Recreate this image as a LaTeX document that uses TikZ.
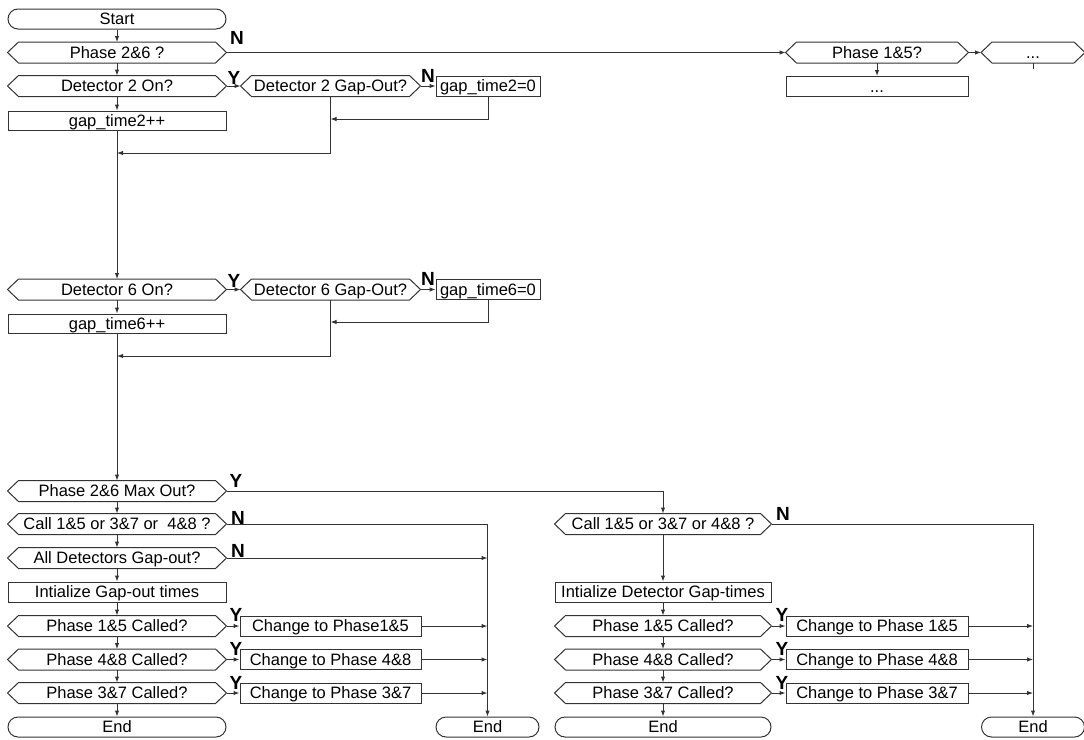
\documentclass[tikz,border=0pt]{standalone}
\usepackage{fontspec}
\setmainfont{Liberation Sans}
\usetikzlibrary{arrows.meta,calc,shapes.misc}
\definecolor{lc}{HTML}{333333}
\tikzset{
 x=1pt,y=-1pt,
 base/.style={draw=lc, line width=1pt, minimum height=20pt, inner sep=0pt, font=\fontsize{16.5}{18}\selectfont, text=black, text height=12pt, text depth=0.4pt},
 procbox/.style={base, rectangle, minimum width=#1},
 termbox/.style={base, rounded rectangle, minimum width=#1},
 hexbox/.style={base, draw=none, minimum width=#1},
 conn/.style={draw=lc, line width=1pt},
 arr/.style={conn, -{Latex[length=6pt,width=4.5pt]}},
 lbl/.style={font=\fontsize{19}{19}\selectfont\bfseries, inner sep=0pt},
}
\newcommand{\FChex}[5]{%
 \node[hexbox=#4] (#1) at (#2,#3) {#5};
 \draw[conn] (#1.west) -- ($(#1.north west)+(11,0)$) -- ($(#1.north east)+(-11,0)$) -- (#1.east) -- ($(#1.south east)+(-11,0)$) -- ($(#1.south west)+(11,0)$) -- cycle;}
\begin{document}
\begin{tikzpicture}
\useasboundingbox (0,0) rectangle (1084,739);
% ---------- top part ----------
\node[termbox=218pt] (start) at (117,19) {Start};
\FChex{p26}{117}{52.5}{218pt}{Phase 2\&6 ?}
\FChex{d2on}{117}{86}{218pt}{Detector 2 On?}
\FChex{d2go}{330.5}{86}{179pt}{Detector 2 Gap-Out?}
\node[procbox=104pt] (gt2z) at (488,86) {gap\_time2=0};
\node[procbox=218pt, minimum height=19pt] (gt2pp) at (117,120.5) {gap\_time2++};
\FChex{p15}{877}{52.5}{182pt}{Phase 1\&5?}
\FChex{dots}{1033}{52.5}{103pt}{...}
\node[procbox=182pt] (dotsr) at (877,86.5) {...};
\coordinate (dstub) at (1033,69);
\coordinate (j1) at (330.5,119);
\coordinate (j2) at (330.5,153);
\coordinate (m1) at (117,153);
\draw[arr] (start) -- (p26);
\draw[arr] (p26) -- (d2on);
\draw[arr] (p26.east) -- (p15.west);
\draw[arr] (p15.east) -- (dots.west);
\draw[arr] (p15.south) -- (dotsr.north);
\draw[conn] (dots.south) -- (dstub);
\draw[arr] (d2on.east) -- (d2go.west);
\draw[arr] (d2on) -- (gt2pp);
\draw[arr] (d2go.east) -- (gt2z.west);
\draw[arr] (gt2z.south) |- (j1);
\draw[conn] (d2go.south) -- (j2);
\draw[arr] (j2) -- (m1);
\node[lbl] (n1) at (237,38) {N};
\node[lbl] (y1) at (234,78) {Y};
\node[lbl] (n2) at (428,76) {N};
% ---------- detector 6 ----------
\FChex{d6on}{117}{289.5}{218pt}{Detector 6 On?}
\FChex{d6go}{330.5}{289.5}{179pt}{Detector 6 Gap-Out?}
\node[procbox=104pt] (gt6z) at (488,289.5) {gap\_time6=0};
\node[procbox=218pt, minimum height=19pt] (gt6pp) at (117,323.5) {gap\_time6++};
\coordinate (j3) at (330.5,322);
\coordinate (j4) at (330.5,356);
\coordinate (m2) at (117,356);
\draw[arr] (gt2pp) -- (d6on);
\draw[arr] (d6on.east) -- (d6go.west);
\draw[arr] (d6on) -- (gt6pp);
\draw[arr] (d6go.east) -- (gt6z.west);
\draw[arr] (gt6z.south) |- (j3);
\draw[conn] (d6go.south) -- (j4);
\draw[arr] (j4) -- (m2);
\node[lbl] (y2) at (234,281) {Y};
\node[lbl] (n3) at (428,279) {N};
% ---------- bottom left ----------
\FChex{maxout}{117}{491}{218pt}{Phase 2\&6 Max Out?}
\FChex{call1}{117}{524}{218pt}{Call 1\&5 or 3\&7 or\ \ 4\&8 ?}
\FChex{alldet}{117}{558}{218pt}{All Detectors Gap-out?}
\node[procbox=218pt] (init1) at (117,592) {Intialize Gap-out times};
\FChex{pa1}{117}{626}{218pt}{Phase 1\&5 Called?}
\FChex{pb1}{117}{659.5}{218pt}{Phase 4\&8 Called?}
\FChex{pc1}{117}{693}{218pt}{Phase 3\&7 Called?}
\node[termbox=218pt] (end1) at (117,727) {End};
\node[procbox=181pt] (ca1) at (330.5,626) {Change to Phase1\&5};
\node[procbox=181pt] (cb1) at (330.5,659.5) {Change to Phase 4\&8};
\node[procbox=181pt] (cc1) at (330.5,693) {Change to Phase 3\&7};
\node[termbox=103pt] (end2) at (487.5,727) {End};
\draw[arr] (gt6pp) -- (maxout);
\draw[arr] (maxout) -- (call1);
\draw[arr] (call1) -- (alldet);
\draw[arr] (alldet) -- (init1);
\draw[arr] (init1) -- (pa1);
\draw[arr] (pa1) -- (pb1);
\draw[arr] (pb1) -- (pc1);
\draw[arr] (pc1) -- (end1);
\draw[arr] (pa1.east) -- (ca1.west);
\draw[arr] (pb1.east) -- (cb1.west);
\draw[arr] (pc1.east) -- (cc1.west);
\draw[arr] (call1.east) -| (end2.north);
\draw[arr] (alldet.east) -- (alldet.east -| end2.north);
\draw[arr] (ca1.east) -- (ca1.east -| end2.north);
\draw[arr] (cb1.east) -- (cb1.east -| end2.north);
\draw[arr] (cc1.east) -- (cc1.east -| end2.north);
\node[lbl] (y3) at (236,481) {Y};
\node[lbl] (n4) at (238,518) {N};
\node[lbl] (n5) at (238,551) {N};
\node[lbl] (y4) at (236,615) {Y};
\node[lbl] (y5) at (236,649) {Y};
\node[lbl] (y6) at (236,683) {Y};
% ---------- bottom right ----------
\FChex{call2}{663}{524}{216pt}{Call 1\&5 or 3\&7 or 4\&8 ?}
\node[procbox=216pt] (init2) at (663,592) {Intialize Detector Gap-times};
\FChex{pa2}{663}{626}{216pt}{Phase 1\&5 Called?}
\FChex{pb2}{663}{659.5}{216pt}{Phase 4\&8 Called?}
\FChex{pc2}{663}{693}{216pt}{Phase 3\&7 Called?}
\node[termbox=216pt] (end3) at (663,727) {End};
\node[procbox=182pt] (ca2) at (877,626) {Change to Phase 1\&5};
\node[procbox=182pt] (cb2) at (877,659.5) {Change to Phase 4\&8};
\node[procbox=182pt] (cc2) at (877,693) {Change to Phase 3\&7};
\node[termbox=103pt] (end4) at (1033,727) {End};
\draw[arr] (maxout.east) -| (call2.north);
\draw[arr] (call2) -- (init2);
\draw[arr] (init2) -- (pa2);
\draw[arr] (pa2) -- (pb2);
\draw[arr] (pb2) -- (pc2);
\draw[arr] (pc2) -- (end3);
\draw[arr] (pa2.east) -- (ca2.west);
\draw[arr] (pb2.east) -- (cb2.west);
\draw[arr] (pc2.east) -- (cc2.west);
\draw[arr] (call2.east) -| (end4.north);
\draw[arr] (ca2.east) -- (ca2.east -| end4.north);
\draw[arr] (cb2.east) -- (cb2.east -| end4.north);
\draw[arr] (cc2.east) -- (cc2.east -| end4.north);
\node[lbl] (n6) at (783,514) {N};
\node[lbl] (y7) at (782,615) {Y};
\node[lbl] (y8) at (782,649) {Y};
\node[lbl] (y9) at (782,683) {Y};
\end{tikzpicture}
\end{document}
